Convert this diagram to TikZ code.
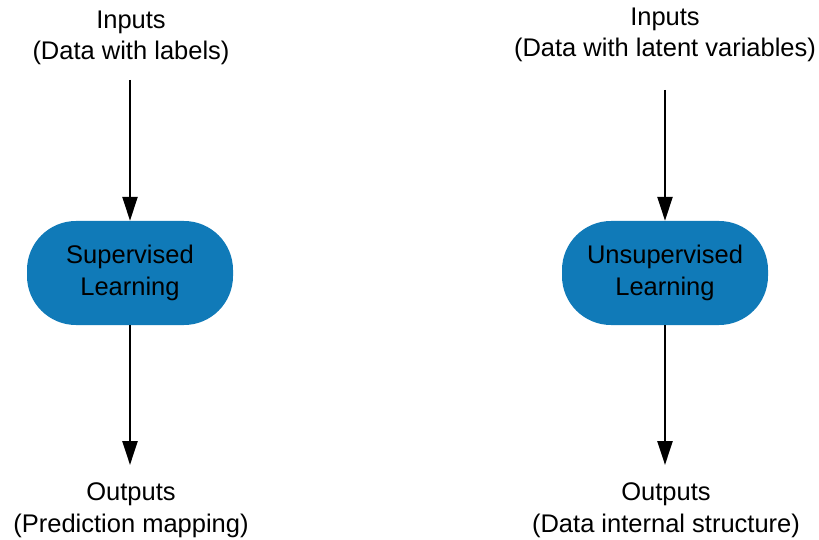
\documentclass[tikz,border=0pt]{standalone}
\usepackage{fontspec}
\setmainfont{Liberation Sans}
\usetikzlibrary{arrows.meta}
\definecolor{boxblue}{RGB}{16,122,184}
\tikzset{
  lbl/.style={align=center, font=\fontsize{25.5}{31.5}\selectfont, inner sep=0pt},
  learnbox/.style={draw=none, fill=boxblue, rounded corners=49pt, minimum width=206pt, minimum height=104pt, align=center, font=\fontsize{25.5}{31.5}\selectfont, inner sep=0pt},
  flow/.style={line width=2.5pt, -{Triangle[width=15pt,length=24pt]}}
}
\begin{document}
\begin{tikzpicture}[x=1pt,y=-1pt]
\useasboundingbox (0,0) rectangle (819,540);
% left
\node[lbl] (in1) at (131,38) {Inputs\\(Data with labels)};
\node[learnbox] (sl) at (130,273) {Supervised\\Learning};
\node[lbl] (out1) at (131,510) {Outputs\\(Prediction mapping)};
\coordinate (a1) at (130,80);
\coordinate (b1) at (130,465);
\draw[flow] (a1) -- (sl.north);
\draw[flow] (sl.south) -- (b1);
% right
\node[lbl] (in2) at (665,35) {Inputs\\(Data with latent variables)};
\node[learnbox] (ul) at (665,273) {Unsupervised\\Learning};
\node[lbl] (out2) at (666,510) {Outputs\\(Data internal structure)};
\coordinate (a2) at (665,90);
\coordinate (b2) at (665,465);
\draw[flow] (a2) -- (ul.north);
\draw[flow] (ul.south) -- (b2);
\end{tikzpicture}
\end{document}
